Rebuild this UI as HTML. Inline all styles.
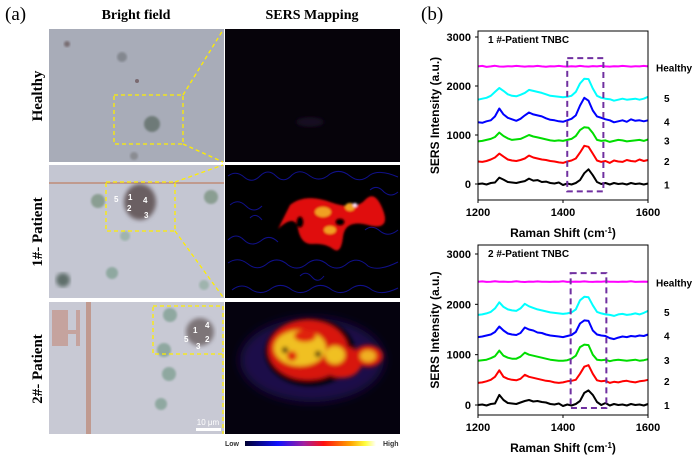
<!DOCTYPE html>
<html><head><meta charset="utf-8"><style>
html,body{margin:0;padding:0;background:#fff;width:700px;height:457px;overflow:hidden}
svg{display:block}
.serif{font-family:"Liberation Serif",serif}
.sans{font-family:"Liberation Sans",sans-serif}
</style></head><body>
<svg id="fig" width="700" height="457" viewBox="0 0 700 457" xmlns="http://www.w3.org/2000/svg">
<defs>
<filter id="b2"><feGaussianBlur stdDeviation="2"/></filter>
<filter id="b4"><feGaussianBlur stdDeviation="5"/></filter>
<filter id="b1"><feGaussianBlur stdDeviation="1"/></filter>
<linearGradient id="cbar" x1="0" x2="1"><stop offset="0" stop-color="#000030"/><stop offset="0.25" stop-color="#1010ff"/><stop offset="0.45" stop-color="#a020a0"/><stop offset="0.6" stop-color="#ff1010"/><stop offset="0.8" stop-color="#ffa000"/><stop offset="0.92" stop-color="#ffff40"/><stop offset="1" stop-color="#ffffff"/></linearGradient>
</defs>
<text x="5" y="20" class="serif" font-size="19">(a)</text>
<text x="136" y="19" class="serif" font-size="14" font-weight="bold" text-anchor="middle">Bright field</text>
<text x="312" y="19" class="serif" font-size="14" font-weight="bold" text-anchor="middle">SERS Mapping</text>
<text x="421" y="20" class="serif" font-size="19">(b)</text>
<g class="serif" font-size="15" font-weight="bold" text-anchor="middle">
<text transform="translate(42,96) rotate(-90)">Healthy</text>
<text transform="translate(42,232) rotate(-90)">1#- Patient</text>
<text transform="translate(42,369) rotate(-90)">2#- Patient</text>
</g>
<g>
<rect x="49" y="29" width="175" height="133" fill="#a8acb8"/>
<circle cx="67" cy="44" r="3" fill="#786d72" filter="url(#b1)"/>
<circle cx="122" cy="57" r="5" fill="#83878f" filter="url(#b1)"/>
<circle cx="137" cy="81" r="2" fill="#7a6a70"/>
<circle cx="152" cy="124" r="8" fill="#6e7a78" filter="url(#b1)"/>
<circle cx="134" cy="156" r="4" fill="#8a8c92" filter="url(#b1)"/>
</g>
<g>
<rect x="49" y="165" width="175" height="133" fill="#c4c6d2"/>
<rect x="49" y="182" width="175" height="2" fill="#c09a8e"/>
<ellipse cx="140" cy="202" rx="16" ry="18" fill="#6a5e62" filter="url(#b2)"/>
<circle cx="98" cy="201" r="7" fill="#8a9e92" filter="url(#b1)"/>
<circle cx="211" cy="197" r="7" fill="#8a9e92" filter="url(#b1)"/>
<circle cx="125" cy="236" r="5" fill="#9fb4ad" filter="url(#b1)"/>
<circle cx="112" cy="273" r="6" fill="#8fa8a0" filter="url(#b1)"/>
<circle cx="63" cy="280" r="7" fill="#5e6e6a" filter="url(#b2)"/>
<circle cx="204" cy="285" r="5" fill="#9fb4ad" filter="url(#b1)"/>
<g fill="#fff" font-size="8" class="sans" font-weight="bold"><text x="114" y="202">5</text><text x="128" y="200">1</text><text x="143" y="203">4</text><text x="127" y="211">2</text><text x="144" y="218">3</text></g>
</g>
<g>
<rect x="49" y="302" width="175" height="132" fill="#c8c9d4"/>
<path d="M52 310h16v20h8v-20h4v36h-4v-12h-8v12h-16z" fill="#c49a90" opacity="0.8"/>
<rect x="86" y="302" width="5" height="132" fill="#c09a90"/>
<circle cx="170" cy="315" r="7" fill="#8fa8a0" filter="url(#b1)"/>
<ellipse cx="200" cy="332" rx="14" ry="14" fill="#7d7478" filter="url(#b2)"/>
<circle cx="164" cy="350" r="7" fill="#8fa8a0" filter="url(#b1)"/>
<circle cx="169" cy="374" r="7" fill="#8fa8a0" filter="url(#b1)"/>
<circle cx="161" cy="404" r="6" fill="#8fa8a0" filter="url(#b1)"/>
<g fill="#fff" font-size="8" class="sans" font-weight="bold"><text x="193" y="333">1</text><text x="205" y="328">4</text><text x="184" y="342">5</text><text x="205" y="342">2</text><text x="196" y="349">3</text></g>
<rect x="196" y="428" width="25" height="3" fill="#fff"/>
<text x="208" y="425" fill="#fff" font-size="8" class="sans" text-anchor="middle">10 μm</text>
</g>
<g>
<rect x="225" y="29" width="175" height="133" fill="#06030a"/>
<ellipse cx="310" cy="122" rx="14" ry="5" fill="#140a20" filter="url(#b2)"/>
</g>
<g>
<rect x="225" y="165" width="175" height="133" fill="#000"/>
<path d="M228 176 Q236 170 244 177 Q252 184 260 176 Q268 168 276 176 Q284 184 292 175 Q300 168 310 176 Q320 183 330 174 Q340 168 350 176 Q360 184 370 175 Q380 169 398 177
M230 205 Q238 198 246 206 Q254 214 262 206
M228 240 Q236 232 244 240 Q252 248 262 240 Q270 234 278 242
M228 263 Q238 256 248 264 Q258 272 268 263 Q278 256 288 265 Q298 272 308 263 Q318 256 328 265 Q338 272 348 263 Q358 256 368 266 Q378 272 398 262
M232 290 Q242 282 252 290 Q262 296 272 288 Q282 282 292 290 Q302 296 312 288 Q322 282 332 290 Q342 296 352 288 Q362 282 372 290 Q382 296 398 288
M365 230 Q372 224 380 231 Q388 238 398 230
M370 190 Q377 184 384 192 Q391 198 398 192
M250 218 Q256 212 262 220
M300 276 Q306 270 312 277 Q318 284 324 276"
 stroke="#10108a" stroke-width="1" fill="none"/>
<g filter="url(#b1)">
<path d="M290 205q15 -12 40 -3t35 -2t18 10t-15 15t-25 12t-10 12t-20 -5t-15 -15t-20 0z" fill="#e01010"/>
<ellipse cx="323" cy="212" rx="8" ry="5" fill="#f0a020"/>
<ellipse cx="350" cy="207" rx="5" ry="4" fill="#f0a020"/>
<ellipse cx="330" cy="230" rx="6" ry="4" fill="#f0a020"/>
<ellipse cx="355" cy="205" rx="2" ry="2" fill="#ffe0ff"/>
<ellipse cx="300" cy="222" rx="4" ry="6" fill="#000"/>
<ellipse cx="340" cy="222" rx="5" ry="4" fill="#000"/>
</g>
</g>
<g>
<rect x="225" y="302" width="175" height="132" fill="#05020e"/>
<ellipse cx="312" cy="360" rx="72" ry="42" fill="#1e0c48" filter="url(#b4)"/>
<g filter="url(#b2)">
<ellipse cx="310" cy="352" rx="45" ry="34" fill="#000" opacity="0.9"/>
<ellipse cx="308" cy="350" rx="40" ry="30" fill="#d81510"/>
<ellipse cx="342" cy="362" rx="20" ry="16" fill="#d81510"/>
<ellipse cx="368" cy="356" rx="15" ry="11" fill="#d81510"/>
<ellipse cx="300" cy="348" rx="26" ry="18" fill="#f0c020"/>
<ellipse cx="335" cy="355" rx="10" ry="9" fill="#f0c020"/>
<ellipse cx="368" cy="356" rx="8" ry="6" fill="#f0b020"/>
<ellipse cx="305" cy="336" rx="11" ry="6" fill="#e02010"/>
<ellipse cx="292" cy="356" rx="5" ry="5" fill="#e02010"/>
<ellipse cx="318" cy="354" rx="3" ry="3" fill="#200000"/>
<ellipse cx="285" cy="350" rx="3" ry="3" fill="#200000"/>
</g>
</g>
<g stroke="#ffee00" stroke-width="1.3" stroke-dasharray="4,3" fill="none">
<rect x="114" y="95" width="69" height="49"/>
<line x1="183" y1="95" x2="223" y2="30"/><line x1="183" y1="144" x2="223" y2="162"/>
<rect x="106" y="182" width="69" height="49"/>
<line x1="175" y1="182" x2="223" y2="165"/><line x1="175" y1="231" x2="223" y2="297"/>
<rect x="153" y="306" width="70" height="48"/>
<line x1="223" y1="354" x2="223" y2="434"/>
</g>
<g>
<rect x="245" y="441" width="131" height="5" fill="url(#cbar)"/>
<text x="225" y="446" font-size="7" class="sans" font-weight="bold" fill="#333">Low</text>
<text x="383" y="446" font-size="7" class="sans" font-weight="bold" fill="#333">High</text>
</g>
<g id="charts"></g>
</svg>
<script>
const ramanX=[1200,1210,1220,1230,1240,1250,1260,1270,1280,1290,1300,1310,1320,1330,1340,1350,1360,1370,1380,1390,1400,1410,1420,1430,1440,1450,1460,1470,1480,1490,1500,1510,1520,1530,1540,1550,1560,1570,1580,1590,1600];
const seriesNames=["1","2","3","4","5","Healthy"];
const seriesColors=["#000000","#ff0000","#00dd00","#0000ff","#00ffff","#ff00ff"];
const yTicks=[0,1000,2000,3000];
const xTicks=[1200,1400,1600];
const p1s1=[0,10,-10,20,30,130,90,40,30,20,40,60,110,70,80,40,50,20,10,30,-20,10,-10,20,80,220,300,180,40,0,20,-10,20,0,10,-10,20,0,10,-10,10];
const p1s2=[460,450,470,500,540,620,560,500,480,470,490,520,580,540,520,500,490,470,460,440,430,460,480,520,640,780,760,620,480,450,470,430,480,460,450,490,470,460,500,470,490];
const p1s3=[870,880,900,920,960,1050,980,930,900,910,920,960,1000,970,950,930,910,890,880,890,880,900,920,980,1100,1160,1150,1040,900,880,890,860,880,900,890,870,880,890,900,880,910];
const p1s4=[1260,1250,1280,1300,1380,1540,1420,1350,1320,1290,1330,1400,1460,1420,1400,1380,1340,1310,1300,1280,1270,1300,1330,1400,1600,1760,1700,1500,1380,1350,1320,1300,1260,1280,1300,1270,1320,1290,1300,1280,1300];
const p1s5=[1720,1740,1760,1800,1880,1960,1900,1830,1800,1790,1820,1860,1920,1900,1880,1860,1830,1800,1790,1780,1770,1780,1800,1880,2050,2150,2140,1950,1800,1760,1740,1730,1700,1720,1740,1720,1730,1740,1720,1740,1780];
const p1s6=[2400,2410,2390,2400,2412,2398,2395,2405,2400,2410,2402,2395,2405,2400,2410,2400,2393,2405,2401,2410,2400,2395,2405,2398,2410,2400,2395,2407,2400,2410,2400,2395,2405,2400,2410,2402,2395,2405,2400,2410,2400];
const p2s1=[0,10,-10,20,30,200,100,40,30,20,50,80,100,70,80,60,50,20,10,30,-20,10,-10,20,80,240,290,200,60,0,40,-10,20,0,10,-10,20,0,10,-10,20];
const p2s2=[440,450,470,500,560,690,560,520,500,490,520,600,560,540,520,500,480,470,450,440,450,470,480,500,620,760,790,620,490,470,480,440,460,450,470,480,460,450,470,480,500];
const p2s3=[880,890,900,930,970,1080,980,940,920,920,960,1040,1000,980,960,940,920,900,890,880,880,890,920,980,1150,1200,1190,1000,900,890,900,870,890,900,890,880,890,900,880,890,910];
const p2s4=[1350,1360,1380,1400,1450,1560,1480,1420,1400,1390,1430,1540,1500,1480,1440,1430,1400,1380,1370,1360,1350,1370,1390,1450,1620,1680,1670,1480,1400,1380,1370,1330,1310,1340,1360,1350,1370,1360,1380,1370,1400];
const p2s5=[1790,1800,1820,1850,1920,2040,1950,1900,1880,1870,1920,2010,1960,1930,1900,1880,1860,1840,1830,1820,1810,1820,1840,1900,2080,2150,2140,1980,1850,1820,1800,1790,1770,1800,1810,1790,1800,1820,1800,1830,1870];
const p2s6=[2450,2455,2445,2450,2460,2448,2452,2445,2450,2458,2450,2444,2452,2450,2456,2448,2450,2445,2452,2450,2458,2446,2450,2452,2448,2455,2450,2445,2452,2450,2456,2448,2450,2445,2452,2450,2458,2446,2450,2452,2450];
const box1=[1410,1495,2570,-150];
const box2=[1418,1502,2620,-60];
const chartTitles=["1 #-Patient TNBC","2 #-Patient TNBC"];

const NS="http://www.w3.org/2000/svg";
const root=document.getElementById('charts');
function mk(tag,attrs,parent){const e=document.createElementNS(NS,tag);for(const k in attrs)e.setAttribute(k,attrs[k]);(parent||root).appendChild(e);return e;}
function drawChart(idx,series,box,top,bottom,y3000,y0){
  const x0=478,x1=648;
  const sx=v=>x0+(v-1200)/400*(x1-x0);
  const sy=v=>y0+(v/3000)*(y3000-y0);
  const g=mk('g',{});
  
  
  series.forEach((vals,si)=>{
    const d=vals.map((v,i)=>(i?'L':'M')+sx(ramanX[i]).toFixed(1)+' '+sy(v).toFixed(1)).join(' ');
    const p=mk('path',{d:d,stroke:seriesColors[si],'stroke-width':2,fill:'none','stroke-linejoin':'round'},g);
    
    
    const lb=mk('text',{x:si===5?656:664,y:(sy(vals[vals.length-1])+5).toFixed(1),'font-size':10,'font-weight':'bold','font-family':'Liberation Sans, sans-serif'},g);
    lb.textContent=seriesNames[si];
    
    
  });
  const r=mk('rect',{x:sx(box[0]),y:sy(box[2]),width:sx(box[1])-sx(box[0]),height:sy(box[3])-sy(box[2]),fill:'none',stroke:'#7030a0','stroke-width':2,'stroke-dasharray':'6,4'},g);
  
  
  const fr=mk('rect',{x:x0,y:top,width:x1-x0,height:bottom-top,fill:'none',stroke:'#000','stroke-width':1},g);
  
  
  yTicks.forEach(t=>{
    mk('line',{x1:x0,x2:x0-3,y1:sy(t),y2:sy(t),stroke:'#000'},g);
    const tx=mk('text',{x:x0-7,y:sy(t)+4,'text-anchor':'end','font-size':11,'font-weight':'bold','font-family':'Liberation Sans, sans-serif'},g);
    tx.textContent=t;
    
    
  });
  xTicks.forEach(t=>{
    mk('line',{x1:sx(t),x2:sx(t),y1:bottom,y2:bottom+3,stroke:'#000'},g);
    const tx=mk('text',{x:sx(t),y:bottom+16,'text-anchor':'middle','font-size':11,'font-weight':'bold','font-family':'Liberation Sans, sans-serif'},g);
    tx.textContent=t;
    
    
  });
  const tt=mk('text',{x:x0+10,y:top+12,'font-size':10,'font-weight':'bold','font-family':'Liberation Sans, sans-serif'},g);
  tt.textContent=chartTitles[idx];
  
  
  const xt=mk('text',{x:(x0+x1)/2,y:bottom+37,'text-anchor':'middle','font-size':12,'font-weight':'bold','font-family':'Liberation Sans, sans-serif'},g);
  xt.innerHTML='Raman Shift (cm<tspan dy="-4" font-size="8">-1</tspan><tspan dy="4">)</tspan>';
  
  
  const yt=mk('text',{transform:'translate(439,'+((top+bottom)/2)+') rotate(-90)','text-anchor':'middle','font-size':12,'font-weight':'bold','font-family':'Liberation Sans, sans-serif'},g);
  yt.textContent='SERS Intensity (a.u.)';
  
  
}
drawChart(0,[p1s1,p1s2,p1s3,p1s4,p1s5,p1s6],box1,31,200,37,184);
drawChart(1,[p2s1,p2s2,p2s3,p2s4,p2s5,p2s6],box2,245,415,254,405);
</script>
</body></html>
